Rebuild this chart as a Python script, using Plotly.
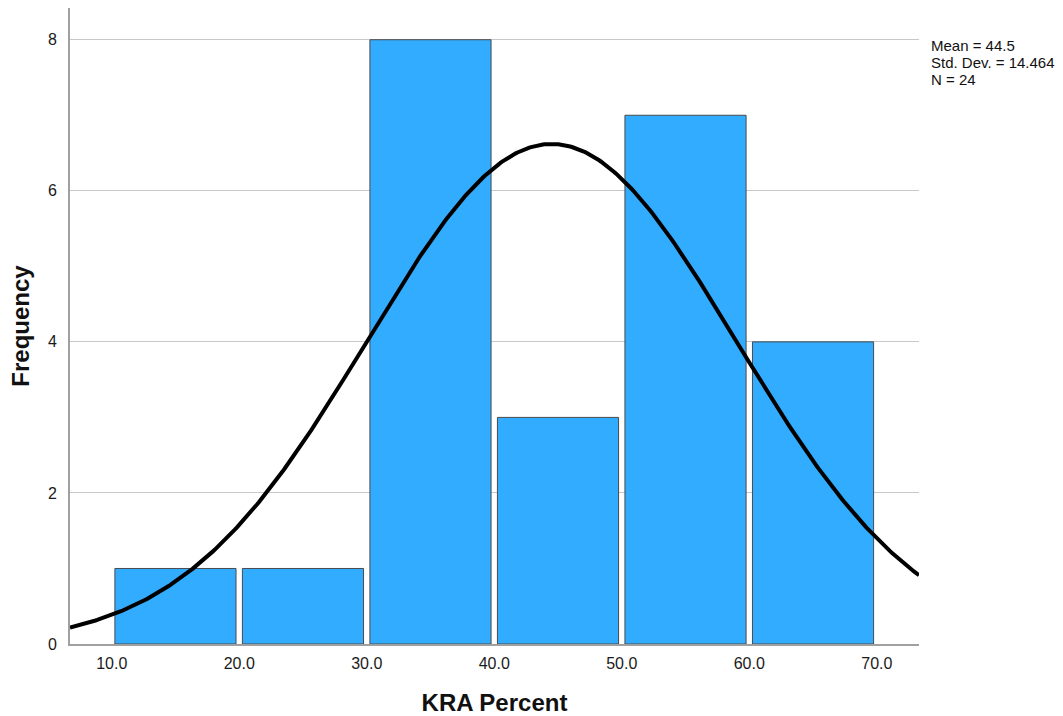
import numpy as np
import plotly.graph_objects as go

# Histogram bins (KRA Percent) and counts
bin_left = [10, 20, 30, 40, 50, 60]
bin_width = 10
counts = [1, 1, 8, 3, 7, 4]

# Summary statistics shown in the legend box
mean = 44.5
std_dev = 14.464
n_obs = 24

x_range = [6.73, 73.31]
y_range = [0, 8.42]

centers = [b + bin_width / 2 for b in bin_left]
tick_vals = bin_left + [70]

fig = go.Figure()
fig.add_trace(go.Bar(
    x=centers, y=counts, width=9.5,
    marker=dict(color="#31acff", line=dict(color="#4a4a4a", width=1)),
    hoverinfo="x+y",
))

# Normal curve scaled to the histogram (N * bin width)
xs = np.linspace(x_range[0], x_range[1], 500)
ys = n_obs * bin_width / (std_dev * np.sqrt(2 * np.pi)) * np.exp(-0.5 * ((xs - mean) / std_dev) ** 2)
fig.add_trace(go.Scatter(x=xs, y=ys, mode="lines", line=dict(color="black", width=4), hoverinfo="skip"))

stats_lines = [f"Mean = {mean}", f"Std. Dev. = {std_dev}", f"N = {n_obs}"]
annotations = []
for i, line in enumerate(stats_lines):
    annotations.append(dict(
        xref="paper", yref="paper", x=1.012, y=(716 - 72 - 46 - i * 16.5) / (716 - 72 - 8),
        xanchor="left", yanchor="middle", text=line,
        showarrow=False, align="left", font=dict(size=15, color="#111"),
    ))

fig.update_layout(
    width=1063, height=716,
    margin=dict(l=70, r=144, t=8, b=72),
    paper_bgcolor="white", plot_bgcolor="white",
    showlegend=False,
    font=dict(family="Arial, Liberation Sans, sans-serif", color="#222"),
    xaxis=dict(
        range=x_range, tickvals=tick_vals, automargin=False,
        ticktext=[f"{v:.1f}" for v in tick_vals],
        showgrid=False, showline=True, linecolor="#a0a0a0", linewidth=2,
        ticks="", tickfont=dict(size=16, color="#1a1a1a"), ticklabelstandoff=4,
        title=dict(text="<b>KRA Percent</b>", font=dict(size=24, color="#111"), standoff=24),
        zeroline=False,
    ),
    yaxis=dict(
        range=y_range, tickvals=[0, 2, 4, 6, 8], automargin=False,
        showgrid=True, gridcolor="#c8c8c8", gridwidth=1,
        showline=True, linecolor="#a0a0a0", linewidth=2,
        ticks="", tickfont=dict(size=16, color="#1a1a1a"), ticklabelstandoff=8,
        title=dict(text="<b>Frequency</b>", font=dict(size=24, color="#111"), standoff=11),
        zeroline=False,
    ),
    annotations=annotations,
)

fig.write_html("out.html")
